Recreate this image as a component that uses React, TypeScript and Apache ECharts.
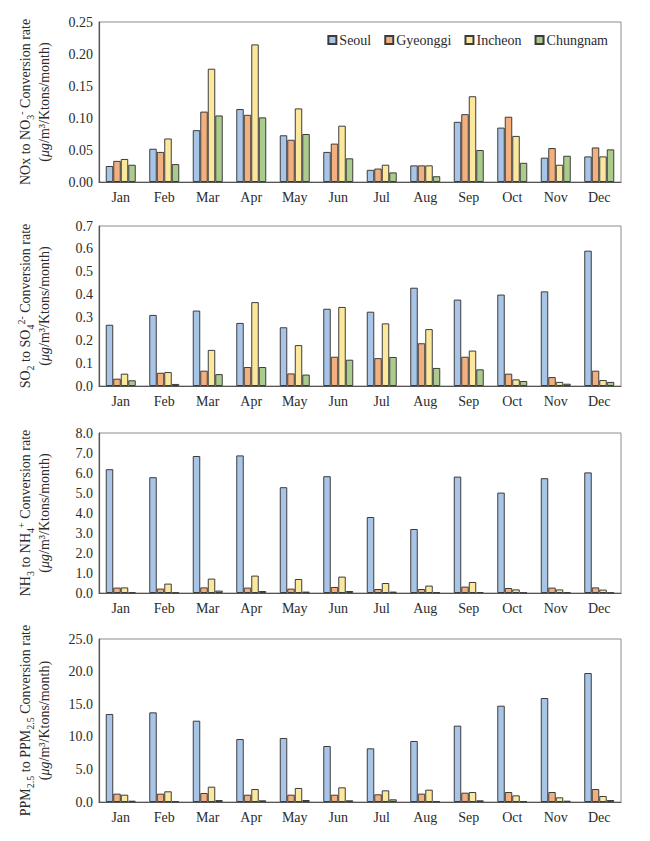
import React, { useEffect, useRef } from "react";
import * as echarts from "echarts";

const months = ["Jan", "Feb", "Mar", "Apr", "May", "Jun", "Jul", "Aug", "Sep", "Oct", "Nov", "Dec"];
const regions = ["Seoul", "Gyeonggi", "Incheon", "Chungnam"];
const colors = ["#a8c4e6", "#f2b07f", "#fce89c", "#aacb8c"];

// NOx -> NO3-
const noxSeoul = [0.025, 0.052, 0.081, 0.114, 0.073, 0.047, 0.019, 0.026, 0.094, 0.085, 0.038, 0.040];
const noxGyeonggi = [0.033, 0.047, 0.110, 0.105, 0.066, 0.060, 0.021, 0.026, 0.106, 0.102, 0.053, 0.054];
const noxIncheon = [0.036, 0.068, 0.177, 0.215, 0.115, 0.088, 0.027, 0.026, 0.134, 0.072, 0.027, 0.040];
const noxChungnam = [0.027, 0.028, 0.104, 0.101, 0.075, 0.037, 0.015, 0.009, 0.050, 0.030, 0.041, 0.051];

// SO2 -> SO4 2-
const so2Seoul = [0.268, 0.311, 0.330, 0.276, 0.257, 0.338, 0.325, 0.430, 0.378, 0.400, 0.414, 0.592];
const so2Gyeonggi = [0.032, 0.058, 0.067, 0.083, 0.055, 0.128, 0.122, 0.187, 0.128, 0.054, 0.039, 0.067];
const so2Incheon = [0.054, 0.061, 0.158, 0.367, 0.179, 0.346, 0.274, 0.249, 0.155, 0.029, 0.018, 0.026];
const so2Chungnam = [0.025, 0.009, 0.052, 0.083, 0.050, 0.115, 0.127, 0.079, 0.073, 0.022, 0.010, 0.018];

// NH3 -> NH4+
const nh3Seoul = [6.19, 5.79, 6.85, 6.88, 5.29, 5.84, 3.80, 3.20, 5.82, 5.02, 5.74, 6.03];
const nh3Gyeonggi = [0.27, 0.22, 0.28, 0.27, 0.22, 0.30, 0.20, 0.20, 0.32, 0.25, 0.27, 0.28];
const nh3Incheon = [0.28, 0.47, 0.72, 0.87, 0.70, 0.82, 0.50, 0.37, 0.55, 0.18, 0.18, 0.17];
const nh3Chungnam = [0.03, 0.02, 0.12, 0.10, 0.07, 0.10, 0.07, 0.03, 0.05, 0.02, 0.03, 0.02];

// PPM2.5 -> PPM2.5
const ppmSeoul = [13.5, 13.75, 12.47, 9.66, 9.82, 8.59, 8.23, 9.36, 11.71, 14.77, 15.95, 19.78];
const ppmGyeonggi = [1.28, 1.28, 1.38, 1.12, 1.12, 1.12, 1.18, 1.28, 1.43, 1.53, 1.53, 1.99];
const ppmIncheon = [1.12, 1.64, 2.35, 1.99, 2.15, 2.25, 1.79, 1.89, 1.53, 1.02, 0.72, 0.92];
const ppmChungnam = [0.2, 0.1, 0.3, 0.26, 0.3, 0.26, 0.41, 0.1, 0.26, 0.1, 0.2, 0.3];

const yMax = [0.25, 0.7, 8.0, 25.0];
const yInterval = [0.05, 0.1, 1.0, 5.0];
const yDecimals = [2, 1, 1, 1];

const axisNames = [
  "{a|NOx to NO}{sub|3}{sup|-}{a| Conversion rate}\n{a|(}{i|μg}{a|/m³/Ktons/month)}",
  "{a|SO}{sub|2}{a| to SO}{sub|4}{sup|2-}{a| Conversion rate}\n{a|(}{i|μg}{a|/m³/Ktons/month)}",
  "{a|NH}{sub|3}{a| to NH}{sub|4}{sup|+}{a| Conversion rate}\n{a|(}{i|μg}{a|/m³/Ktons/month)}",
  "{a|PPM}{sub|2.5}{a| to PPM}{sub|2.5}{a| Conversion rate}\n{a|(}{i|μg}{a|/m³/Ktons/month)}",
];

const panels = [
  [noxSeoul, noxGyeonggi, noxIncheon, noxChungnam],
  [so2Seoul, so2Gyeonggi, so2Incheon, so2Chungnam],
  [nh3Seoul, nh3Gyeonggi, nh3Incheon, nh3Chungnam],
  [ppmSeoul, ppmGyeonggi, ppmIncheon, ppmChungnam],
];

const gridTops = [22, 226, 433, 639];
const gridHeights = [160, 160, 160, 163];

const FONT = "Liberation Serif";
const TEXT = "#2b2b2b";

export default function App() {
  const ref = useRef<HTMLDivElement>(null);
  useEffect(() => {
    if (!ref.current) return;
    const chart = echarts.init(ref.current, undefined, { renderer: "svg" });
    const grid = gridTops.map((t, i) => ({
      left: 99,
      right: 29,
      top: t,
      height: gridHeights[i],
      show: true,
      borderColor: "#8c8c8c",
      borderWidth: 1,
      backgroundColor: "transparent",
    }));
    const xAxis = gridTops.map((_, i) => ({
      type: "category",
      gridIndex: i,
      data: months,
      axisTick: { show: false },
      axisLine: { lineStyle: { color: "#555555", width: 1.2 } },
      axisLabel: { color: TEXT, fontFamily: FONT, fontSize: 14, margin: 8 },
    }));
    const richStyle = {
      a: { fontFamily: FONT, fontSize: 14, color: TEXT, lineHeight: 19, verticalAlign: "middle" },
      i: { fontFamily: FONT, fontSize: 14, color: TEXT, lineHeight: 19, fontStyle: "italic", verticalAlign: "middle" },
      sub: { fontFamily: FONT, fontSize: 10, color: TEXT, lineHeight: 19, verticalAlign: "bottom" },
      sup: { fontFamily: FONT, fontSize: 10, color: TEXT, lineHeight: 19, verticalAlign: "top" },
    };
    const yAxis = gridTops.map((_, i) => ({
      type: "value",
      gridIndex: i,
      min: 0,
      max: yMax[i],
      interval: yInterval[i],
      name: axisNames[i],
      nameLocation: "middle",
      nameRotate: 90,
      nameGap: 45,
      nameTextStyle: { rich: richStyle, align: "center", fontFamily: FONT },
      splitLine: { show: false },
      axisTick: { show: false },
      axisLine: { show: true, lineStyle: { color: "#555555", width: 1.2 } },
      axisLabel: {
        color: TEXT,
        fontFamily: FONT,
        fontSize: 14,
        margin: 6,
        formatter: (v: number) => v.toFixed(yDecimals[i]),
      },
    }));
    const series: any[] = [];
    panels.forEach((arrs, p) => {
      arrs.forEach((vals, r) => {
        series.push({
          type: "bar",
          name: regions[r],
          xAxisIndex: p,
          yAxisIndex: p,
          data: vals,
          barWidth: 7.5,
          barGap: "0%",
          itemStyle: { color: colors[r], borderColor: "#3c3c3c", borderWidth: 1 },
        });
      });
    });
    chart.setOption({
      animation: false,
      backgroundColor: "#ffffff",
      textStyle: { fontFamily: FONT },
      legend: {
        data: regions,
        top: 28,
        right: 37,
        itemWidth: 8,
        itemHeight: 8,
        itemGap: 13,
        icon: "rect",
        textStyle: { fontFamily: FONT, fontSize: 14, color: TEXT, padding: [0, 0, 0, -2] },
      },
      grid,
      xAxis,
      yAxis,
      series,
    });
    return () => chart.dispose();
  }, []);
  return (
    <div
      ref={ref}
      style={{ position: "absolute", left: 0, top: 0, width: 650, height: 841, background: "#fff" }}
    />
  );
}
